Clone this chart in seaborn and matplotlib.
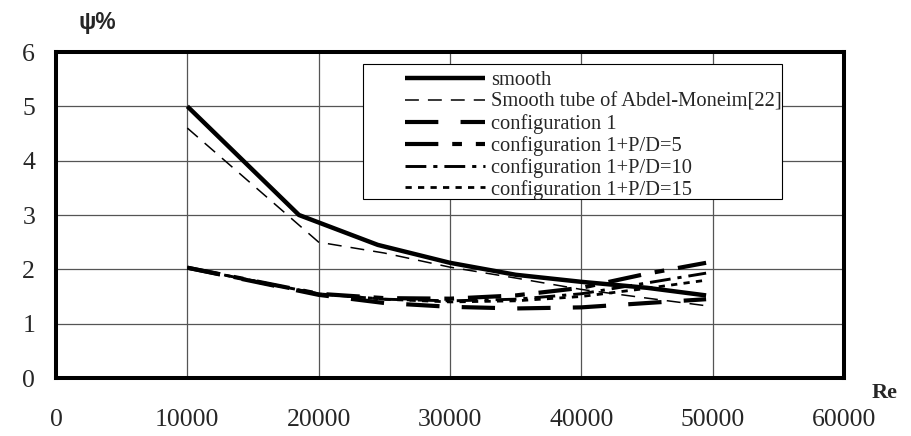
import matplotlib
matplotlib.use("Agg")
import matplotlib.pyplot as plt
from matplotlib.patches import Rectangle
import seaborn as sns

# Reynolds numbers and friction-factor ratio (psi, %) for each tube
re_smooth = [10000, 18500, 24500, 30000, 35000, 40000, 45000, 49500]
psi_smooth = [5.0, 3.0, 2.45, 2.12, 1.9, 1.77, 1.66, 1.52]

re_abdel = [10000, 20000, 25000, 30000, 35000, 40000, 45000, 49500]
psi_abdel = [4.6, 2.5, 2.3, 2.04, 1.84, 1.63, 1.47, 1.33]

re_cfg = [10000, 20000, 25000, 30000, 35000, 40000, 45000, 49500]
psi_cfg1 = [2.03, 1.53, 1.38, 1.31, 1.28, 1.30, 1.38, 1.45]
psi_cfg1_pd5 = [2.03, 1.55, 1.47, 1.46, 1.52, 1.66, 1.92, 2.12]
psi_cfg1_pd10 = [2.03, 1.55, 1.45, 1.42, 1.45, 1.55, 1.75, 1.93]
psi_cfg1_pd15 = [2.03, 1.55, 1.45, 1.40, 1.42, 1.50, 1.65, 1.80]

series_labels = [
    "smooth",
    "Smooth tube of Abdel-Moneim[22]",
    "configuration 1",
    "configuration 1+P/D=5",
    "configuration 1+P/D=10",
    "configuration 1+P/D=15",
]

x_ticks = [0, 10000, 20000, 30000, 40000, 50000, 60000]
x_tick_labels = ["0", "10000", "20000", "30000", "40000", "50000", "60000"]
y_ticks = [0, 1, 2, 3, 4, 5, 6]
y_tick_labels = ["0", "1", "2", "3", "4", "5", "6"]

sns.set_style("white")
plt.rcParams["font.family"] = ["Liberation Serif", "DejaVu Serif"]
plt.rcParams["lines.scale_dashes"] = False

W, H = 912, 436
fig = plt.figure(figsize=(W / 100, H / 100), dpi=100)
ax = fig.add_axes([56 / W, 1 - 378 / H, (844 - 56) / W, (378 - 52) / H])

# (x, y, line width in pt, line style)
series = [
    (re_smooth, psi_smooth, 3.2, "-"),
    (re_abdel, psi_abdel, 1.1, (0, (10, 6.5))),
    (re_cfg, psi_cfg1, 3.0, (0, (24, 16))),
    (re_cfg, psi_cfg1_pd5, 3.0, (0, (24, 10, 7, 10))),
    (re_cfg, psi_cfg1_pd10, 2.1, (0, (15, 5, 3, 5))),
    (re_cfg, psi_cfg1_pd15, 2.0, (0, (4.5, 4.5))),
]

handles = []
for (xs, ys, lw, ls), lab in zip(series, series_labels):
    sns.lineplot(x=xs, y=ys, ax=ax, color="black", linewidth=lw, label=lab,
                 legend=False)
    line = ax.get_lines()[-1]
    line.set_linestyle(ls)
    line.set_solid_capstyle("butt")
    line.set_dash_capstyle("butt")
    handles.append(line)

ax.set_xlim(0, 60000)
ax.set_ylim(0, 6)
ax.set_xticks(x_ticks)
ax.set_xticklabels(x_tick_labels)
ax.set_yticks(y_ticks)
ax.set_yticklabels(y_tick_labels)
ax.tick_params(axis="both", length=0, labelsize=18.5)
ax.tick_params(axis="x", pad=22)
ax.tick_params(axis="y", pad=15)
ax.grid(True, color="#555555", linewidth=0.9)
ax.set_axisbelow(True)
for sp in ax.spines.values():
    sp.set_visible(True)
    sp.set_color("black")
    sp.set_linewidth(2.9)
ax.set_xlabel("")
ax.set_ylabel("")

# legend box
box = Rectangle((363 / W, 1 - 199 / H), (782 - 363) / W, (199 - 64) / H,
                transform=fig.transFigure, facecolor="white",
                edgecolor="black", linewidth=0.8, zorder=4, clip_on=False)
ax.add_patch(box)
leg = ax.legend(handles, series_labels, frameon=False, loc="upper left",
                bbox_to_anchor=(405 / W, 1 - 71 / H),
                bbox_transform=fig.transFigure, fontsize=14.8,
                handlelength=3.9, handletextpad=0.3, borderpad=0,
                borderaxespad=0, labelspacing=0.1)
leg.set_zorder(5)

fig.text(97 / W, 1 - 23 / H, "\u03c8%", ha="center", va="center",
         fontsize=16.5, fontweight="bold",
         family=["Liberation Sans", "DejaVu Sans"])
fig.text(885 / W, 1 - 393 / H, "Re", ha="center", va="center",
         fontsize=16, fontweight="bold")

fig.savefig("out.png", dpi=100)
